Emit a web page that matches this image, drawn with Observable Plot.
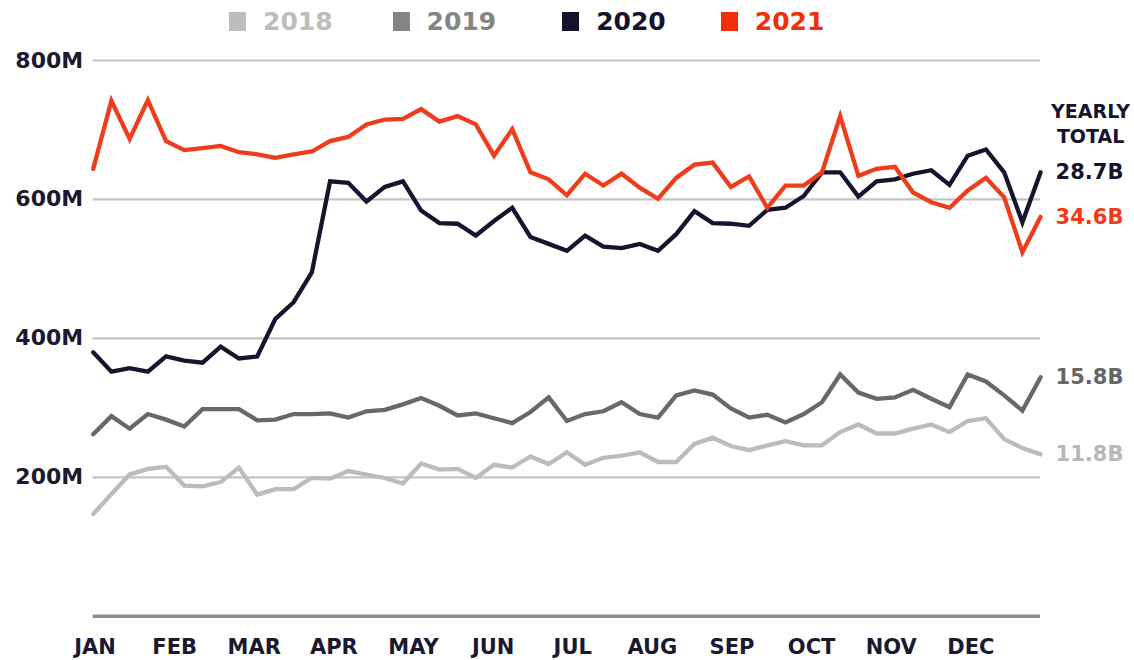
<!DOCTYPE html>
<html>
<head>
<meta charset="utf-8">
<script src="https://cdn.jsdelivr.net/npm/d3@7"></script>
<script src="https://cdn.jsdelivr.net/npm/@observablehq/plot@0.6"></script>
<style>
  html, body { margin: 0; padding: 0; background: #fff; }
  body { width: 1134px; height: 660px; overflow: hidden; position: relative; font-family: "DejaVu Sans", sans-serif; }
  #legend { position: absolute; top: 6px; left: 229px; display: flex; align-items: center; height: 30px; }
  .item { display: flex; align-items: center; font-weight: bold; font-size: 25px; }
  .sw { width: 17px; height: 19px; margin-right: 17px; }
  #chart { position: absolute; top: 0; left: 0; }
</style>
</head>
<body>
<div id="legend"></div>
<div id="chart"></div>
<script>
const years = ["2018", "2019", "2020", "2021"];
const lineColors = ["#bcbcbc", "#686868", "#17142e", "#ee3c1c"];
const legendColors = ["#bdbdbd", "#858585", "#15122d", "#f22e0a"];
const totals = ["11.8B", "15.8B", "28.7B", "34.6B"];
const totalColors = ["#b8b8b8", "#666666", "#17142e", "#f23a14"];
const months = ["JAN","FEB","MAR","APR","MAY","JUN","JUL","AUG","SEP","OCT","NOV","DEC"];
const yTicks = [200, 400, 600, 800];

// weekly values in millions, weeks 0..52
const v2018 = [147,176,204,212,215,188,187,193,214,175,183,183,199,198,209,204,199,191,220,211,212,199,218,214,230,219,236,218,228,231,236,222,222,248,257,245,239,246,252,246,246,265,276,263,263,270,276,265,281,285,255,242,233];
const v2019 = [262,288,270,291,283,273,298,298,298,282,283,291,291,292,286,295,297,305,314,303,289,292,285,278,294,315,281,291,295,308,291,286,318,325,319,299,286,290,279,291,308,348,322,313,315,326,313,301,348,338,318,296,344];
const v2020 = [380,352,357,352,374,368,365,388,371,374,428,452,495,626,624,597,618,626,584,566,565,548,569,588,546,536,526,548,532,530,536,526,550,583,566,565,562,585,588,605,639,639,604,626,629,637,642,621,663,672,639,567,639];
const v2021 = [644,742,687,743,684,671,674,677,668,665,660,665,669,684,690,708,715,716,730,712,720,708,663,701,639,629,606,637,620,637,617,601,631,650,653,618,633,588,620,620,639,720,634,644,647,610,596,588,613,631,603,524,575];

const series = [v2018, v2019, v2020, v2021];
const rows = [];
series.forEach((vals, k) => vals.forEach((v, i) => rows.push({year: years[k], week: i, value: v})));
const ends = series.map((vals, k) => ({year: years[k], week: vals.length - 1, value: vals[vals.length - 1], label: totals[k], color: totalColors[k]}));

// legend
const legend = document.getElementById("legend");
const gaps = [60, 66, 55, 0];
years.forEach((y, k) => {
  const it = document.createElement("div");
  it.className = "item";
  it.style.marginRight = gaps[k] + "px";
  it.style.color = legendColors[k];
  const sw = document.createElement("div");
  sw.className = "sw";
  sw.style.background = legendColors[k];
  it.appendChild(sw);
  it.appendChild(document.createTextNode(y));
  legend.appendChild(it);
});

const font = "DejaVu Sans, sans-serif";
const chart = Plot.plot({
  width: 1134,
  height: 660,
  marginLeft: 92.7,
  marginRight: 93.9,
  marginTop: 60,
  marginBottom: 44.3,
  style: {fontFamily: font, background: "transparent"},
  x: {domain: [0, 52], axis: null},
  y: {domain: [0, 800], axis: null},
  color: {domain: years, range: lineColors},
  marks: [
    Plot.ruleY(yTicks, {stroke: "#c4c4c4", strokeWidth: 2.2}),
    Plot.ruleY([0], {stroke: "#8d8d8d", strokeWidth: 3.5}),
    Plot.text(yTicks, {x: 0, y: d => d, text: d => d + "M", textAnchor: "end", dx: -10, fontSize: 22, fontWeight: "bold", fill: "#1b1930"}),
    Plot.text(months, {x: (d, i) => i * 4.37 + 0.1, y: 0, text: d => d, dy: 31.5, fontSize: 21, fontWeight: "bold", fill: "#1b1930"}),
    Plot.line(rows, {x: "week", y: "value", z: "year", stroke: "year", strokeWidth: 4.3, strokeLinejoin: "miter", strokeMiterlimit: 4}),
    Plot.text(ends, {x: "week", y: "value", text: "label", fill: "color", textAnchor: "start", dx: 15, fontSize: 21, fontWeight: "bold"}),
    Plot.text(["YEARLY\nTOTAL"], {x: 52, y: 711, text: d => d, dx: 50, fontSize: 19, fontWeight: "bold", fill: "#17142e", lineHeight: 1.35})
  ]
});
document.getElementById("chart").appendChild(chart);
</script>
</body>
</html>
